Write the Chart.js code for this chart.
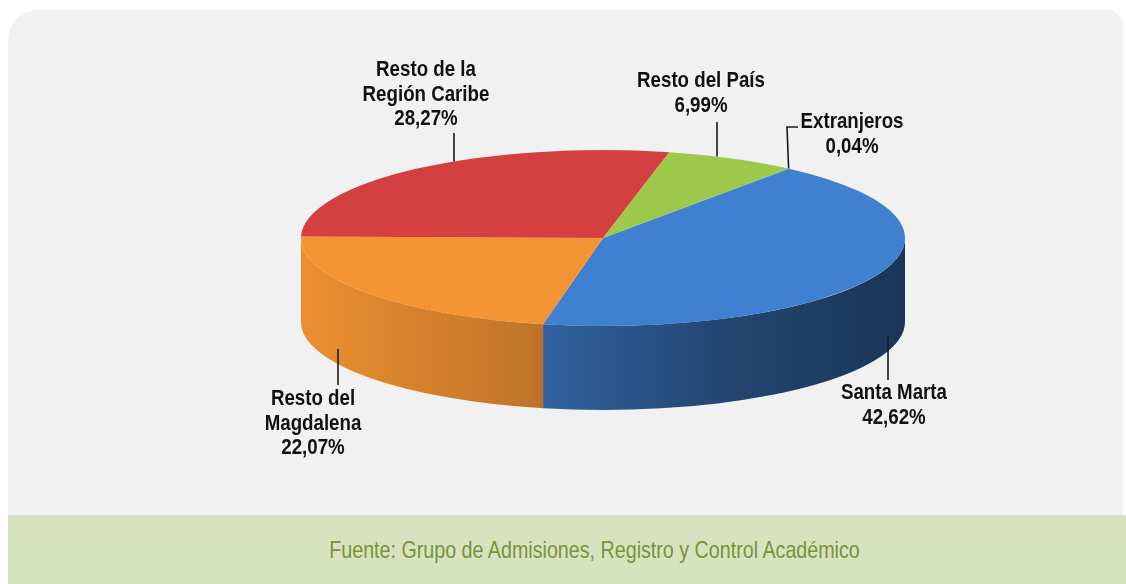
<!DOCTYPE html>
<html lang="es">
<head>
<meta charset="utf-8">
<title>Procedencia de los estudiantes</title>
<script src="https://cdn.jsdelivr.net/npm/chart.js@4/dist/chart.umd.min.js"></script>
<style>
  html, body { margin: 0; padding: 0; background: #fff; width: 1126px; height: 584px; overflow: hidden; }
  .panel { position: absolute; left: 8px; top: 10px; width: 1115px; height: 574px; background: #f1f1f1; border-radius: 30px 16px 0 0; }
  .fuente {
    position: absolute; left: 8px; top: 515px; width: 1118px; height: 69px; box-sizing: border-box;
    padding-left: 54px; background: #d7e3bf; color: #77933c;
    font: 24px "Liberation Sans", Arial, sans-serif;
    display: flex; align-items: center; justify-content: center;
  }
  .fuente span { display: inline-block; transform: scaleX(0.82); white-space: nowrap; }
  #chart { position: absolute; left: 0; top: 0; }
</style>
</head>
<body>
<div class="panel"></div>
<div class="fuente"><span>Fuente: Grupo de Admisiones, Registro y Control Académico</span></div>
<canvas id="chart" width="1126" height="584"></canvas>
<script>
// datos
const categorias = ['Santa Marta', 'Resto del Magdalena', 'Resto de la Región Caribe', 'Resto del País', 'Extranjeros'];
const porcentajes = [42.62, 22.07, 28.27, 6.99, 0.04];
const etiquetas = [['Santa Marta'], ['Resto del', 'Magdalena'], ['Resto de la', 'Región Caribe'], ['Resto del País'], ['Extranjeros']];

// estilo
const colores = ['#4080d0', '#f39332', '#d4403f', '#9dc94a', '#4bacc6'];
const ELIPSE = { rx: 302, ry: 88, fondo: 84 };
const FUENTE_ETIQ = 'bold 22px "Liberation Sans", Arial, sans-serif';
const ANGOSTO = 0.85; // simula Arial Narrow
// vertical: la guía baja/sube recta hasta el borde del pastel
const posEtiquetas = [
    { x: 894, y: 393, fin: [888, 380], vertical: true },
    { x: 313, y: 399, fin: [338, 385], vertical: true },
    { x: 426, y: 70, fin: [454, 133], vertical: true },
    { x: 701, y: 81, fin: [717, 122], vertical: true },
    { x: 852, y: 122, fin: [798, 127], codo: [787, 127] }
];

function oscurecer(hex, f) {
    const n = parseInt(hex.slice(1), 16);
    const r = Math.round(((n >> 16) & 255) * f);
    const g = Math.round(((n >> 8) & 255) * f);
    const b = Math.round((n & 255) * f);
    return `rgb(${r},${g},${b})`;
}

// partes del arco que quedan al frente (seno positivo)
function frente(a0, a1) {
    const res = [];
    for (let k = -2; k <= 2; k++) {
        const lo = Math.max(a0, 2 * Math.PI * k);
        const hi = Math.min(a1, 2 * Math.PI * k + Math.PI);
        if (hi > lo) res.push([lo, hi]);
    }
    return res;
}

function formato(v) {
    return v.toFixed(2).replace('.', ',') + '%';
}

const pastel3d = {
    id: 'pastel3d',
    beforeDatasetsDraw(chart) {
        const ctx = chart.ctx;
        const arcs = chart.getDatasetMeta(0).data;
        const { x: cx, y: cy, outerRadius: r } = arcs[0];
        const { rx, ry, fondo } = ELIPSE;

        arcs.forEach((arc, i) => {
            const c = colores[i];
            const grad = ctx.createLinearGradient(cx - rx, 0, cx + rx, 0);
            grad.addColorStop(0, oscurecer(c, 0.97));
            grad.addColorStop(0.36, oscurecer(c, 0.8));
            grad.addColorStop(0.7, oscurecer(c, 0.55));
            grad.addColorStop(1, oscurecer(c, 0.42));
            frente(arc.startAngle, arc.endAngle).forEach(([a, b]) => {
                ctx.beginPath();
                ctx.ellipse(cx, cy, rx, ry, 0, a, b);
                ctx.ellipse(cx, cy + fondo, rx, ry, 0, b, a, true);
                ctx.closePath();
                ctx.fillStyle = grad;
                ctx.fill();
            });
        });

        // la cara superior se dibuja aplastada
        ctx.save();
        ctx.translate(cx, cy);
        ctx.scale(rx / r, ry / r);
        ctx.translate(-cx, -cy);
    },
    afterDatasetsDraw(chart) {
        chart.ctx.restore();
    },
    afterDraw(chart) {
        const ctx = chart.ctx;
        const arcs = chart.getDatasetMeta(0).data;
        const { x: cx, y: cy } = arcs[0];
        const { rx, ry, fondo } = ELIPSE;

        ctx.save();
        ctx.font = FUENTE_ETIQ;
        ctx.fillStyle = '#111';
        ctx.strokeStyle = '#1a1a1a';
        ctx.lineWidth = 1.6;
        ctx.textAlign = 'center';
        ctx.textBaseline = 'middle';
        arcs.forEach((arc, i) => {
            const p = posEtiquetas[i];
            const lineas = [...etiquetas[i], formato(porcentajes[i])];
            lineas.forEach((t, j) => {
                ctx.save();
                ctx.translate(p.x, p.y + j * 24.5);
                ctx.scale(ANGOSTO, 1);
                ctx.fillText(t, 0, 0);
                ctx.restore();
            });

            let ax, ay;
            if (p.vertical) {
                ax = p.fin[0];
                const k = Math.sqrt(Math.max(0, 1 - ((ax - cx) / rx) ** 2));
                ay = p.fin[1] < cy ? cy - ry * k : cy + ry * k + fondo * 0.82;
            } else {
                const mid = (arc.startAngle + arc.endAngle) / 2;
                ax = cx + rx * Math.cos(mid);
                ay = cy + ry * Math.sin(mid);
            }
            ctx.beginPath();
            ctx.moveTo(ax, ay);
            if (p.codo) ctx.lineTo(p.codo[0], p.codo[1]);
            ctx.lineTo(p.fin[0], p.fin[1]);
            ctx.stroke();
        });
        ctx.restore();
    }
};

new Chart(document.getElementById('chart'), {
    type: 'pie',
    data: {
        labels: categorias,
        datasets: [{
            data: porcentajes,
            backgroundColor: colores,
            borderWidth: 0,
            hoverOffset: 0,
            clip: false
        }]
    },
    options: {
        responsive: false,
        animation: false,
        devicePixelRatio: 1,
        rotation: 38,
        events: [],
        layout: { padding: { left: 403, right: 323, top: 38, bottom: 146 } },
        plugins: {
            legend: { display: false },
            tooltip: { enabled: false }
        }
    },
    plugins: [pastel3d]
});
</script>
</body>
</html>
